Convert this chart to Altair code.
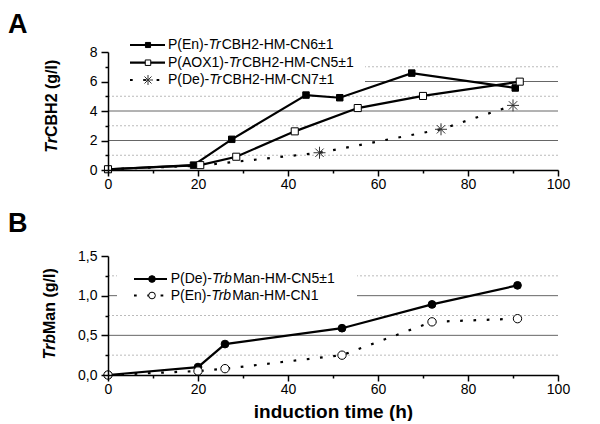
import altair as alt
import pandas as pd

FONT = "Liberation Sans"

# ---------------- data ----------------
# Panel A: TrCBH2 (g/l) vs induction time (h)
a_en_t = [0, 19, 27.5, 44, 51.5, 67.5, 90.5]
a_en_v = [0.05, 0.33, 2.08, 5.08, 4.9, 6.57, 5.56]
a_aox_t = [0, 20.5, 28.5, 41.5, 55.5, 70, 91.5]
a_aox_v = [0.05, 0.33, 0.9, 2.62, 4.2, 5.02, 5.99]
a_de_t = [0, 20.5, 47, 74, 90]
a_de_v = [0.05, 0.3, 1.17, 2.76, 4.38]
a_de_marked = [False, False, True, True, True]

# Panel B: TrbMan (g/l) vs induction time (h)
b_de_t = [0, 20, 26, 52, 72, 91]
b_de_v = [0, 0.1, 0.39, 0.59, 0.89, 1.13]
b_en_t = [0, 20, 26, 52, 72, 91]
b_en_v = [0, 0.05, 0.08, 0.25, 0.67, 0.71]

a_legend = [("P(En)-", "Tr", "CBH2-HM-CN6±1"),
            ("P(AOX1)-", "Tr", "CBH2-HM-CN5±1"),
            ("P(De)-", "Tr", "CBH2-HM-CN7±1")]
b_legend = [("P(De)-", "Trb", "Man-HM-CN5±1"),
            ("P(En)-", "Trb", "Man-HM-CN1")]

x_ticks = list(range(0, 101, 10))
a_y_ticks = list(range(0, 9))
b_y_ticks = [0, 0.25, 0.5, 0.75, 1.0, 1.25, 1.5]
a_grid_solid = [2, 4, 6]
a_grid_dot = [1, 3, 5, 7]
b_grid_solid = [0.5, 1.0]
b_grid_dot = [0.25, 0.75, 1.25]

# ---------------- helpers ----------------
W = 450
HA = 118
HB = 119
DOT = [2.7, 10.6]
LW = 2.2

ARIAL = {' ': 278, '(': 333, ')': 333, '-': 333, '1': 556, '2': 556, '5': 556,
         '6': 556, '7': 556, 'A': 667, 'B': 667, 'C': 722, 'D': 722, 'E': 667,
         'H': 722, 'M': 833, 'N': 722, 'O': 778, 'P': 667, 'T': 611, 'X': 667,
         'a': 556, 'b': 556, 'e': 556, 'n': 556, 'r': 333, '±': 549}


def tw(s, size):
    return sum(ARIAL.get(c, 556) for c in s) / 1000.0 * size


ASTERISK = "M-1,0L1,0M0,-1L0,1M-0.7,-0.7L0.7,0.7M-0.7,0.7L0.7,-0.7"

MARKERS = {
    "filled_square": dict(shape="square", filled=True, fill="black", stroke="black", strokeWidth=1, opacity=1),
    "open_square": dict(shape="square", filled=True, fill="white", stroke="black", strokeWidth=1, opacity=1),
    "asterisk": dict(shape=ASTERISK, filled=False, stroke="#333333", strokeWidth=1, opacity=1),
    "filled_circle": dict(shape="circle", filled=True, fill="black", stroke="black", strokeWidth=1, opacity=1),
    "open_circle": dict(shape="circle", filled=True, fill="white", stroke="black", strokeWidth=1, opacity=1),
}
SIZES = {"filled_square": 42, "open_square": 50, "asterisk": 144,
         "filled_circle": 60, "open_circle": 70}
LEG_SIZES = {"filled_square": 26, "open_square": 30, "asterisk": 100,
             "filled_circle": 45, "open_circle": 45}

one = pd.DataFrame({"k": [0]})

XSCALE = alt.Scale(domain=[0, 100], nice=False, zero=False)


def x_axis(title):
    kw = dict(values=x_ticks,
              labelExpr="datum.value % 20 === 0 ? datum.label : ''",
              tickSize={"condition": {"test": "datum.value % 20 !== 0", "value": 3}, "value": 6},
              labelPadding=1, labelFlush=False, labelOverlap=False, grid=False,
              zindex=1, domainColor="black", domainWidth=1.5, tickColor="black",
              tickWidth=1.5, labelFont=FONT, labelFontSize=14, labelColor="black")
    if title:
        kw.update(title=title, titleFont=FONT, titleFontSize=19, titleFontWeight="bold",
                  titleColor="black", titlePadding=6)
    else:
        kw.update(title=None)
    return alt.Axis(**kw)


def y_axis(values, label_expr, minor_test):
    return alt.Axis(values=values, labelExpr=label_expr,
                    tickSize={"condition": {"test": minor_test, "value": 3}, "value": 7},
                    labelPadding=4, labelOverlap=False, grid=False, title=None,
                    zindex=1, domainColor="black", domainWidth=1.5, tickColor="black",
                    tickWidth=1.5, labelFont=FONT, labelFontSize=14, labelColor="black")


def series(t, v, marker, dash, xenc, yenc, marked=None):
    df = pd.DataFrame({"t": t, "v": v, "m": marked if marked is not None else [True] * len(t)})
    lkw = dict(color="black", strokeWidth=LW)
    if dash:
        lkw["strokeDash"] = dash
    line = alt.Chart(df).mark_line(**lkw).encode(x=xenc, y=yenc)
    pts = alt.Chart(df).transform_filter("datum.m").mark_point(
        size=SIZES[marker], **MARKERS[marker]).encode(x=xenc, y=yenc)
    return [line, pts]


def legend_layers(rows, styles, dashes, x_line0, x_line1, x_mark, x_text, ys):
    layers = []
    for (pre, ital, suf), marker, dash, y in zip(rows, styles, dashes, ys):
        rkw = dict(color="black", strokeWidth=LW)
        if dash:
            rkw["strokeDash"] = dash
        layers.append(alt.Chart(one).mark_rule(**rkw).encode(
            x=alt.value(x_line0), x2=alt.value(x_line1), y=alt.value(y)))
        layers.append(alt.Chart(one).mark_point(size=LEG_SIZES[marker], **MARKERS[marker]).encode(
            x=alt.value(x_mark), y=alt.value(y)))
        x = x_text
        for seg, italic in ((pre, False), (ital, True), (suf, False)):
            tkw = dict(font=FONT, fontSize=14, align="left", baseline="middle", color="black")
            if italic:
                tkw["fontStyle"] = "italic"
            layers.append(alt.Chart(pd.DataFrame({"s": [seg]})).mark_text(**tkw).encode(
                text="s:N", x=alt.value(x), y=alt.value(y)))
            x += tw(seg, 14)
    return layers


def ytitle(ital, rest, x, y):
    a = alt.Chart(pd.DataFrame({"s": [ital]})).mark_text(
        font=FONT, fontSize=16, fontWeight="bold", fontStyle="italic", angle=270,
        align="right", baseline="middle", color="black").encode(
        text="s:N", x=alt.value(x), y=alt.value(y))
    b = alt.Chart(pd.DataFrame({"s": [rest]})).mark_text(
        font=FONT, fontSize=16, fontWeight="bold", angle=270,
        align="left", baseline="middle", color="black").encode(
        text="s:N", x=alt.value(x), y=alt.value(y))
    return [a, b]


def panel_label(s, y):
    return alt.Chart(pd.DataFrame({"s": [s]})).mark_text(
        font=FONT, fontSize=27, fontWeight="bold", align="left", baseline="top",
        color="black").encode(text="s:N", x=alt.value(-100), y=alt.value(y))


def grid(solid, dot, yenc):
    g1 = alt.Chart(pd.DataFrame({"v": dot})).mark_rule(
        color="#bbbbbb", strokeWidth=1, strokeDash=[2, 2]).encode(y=yenc)
    g2 = alt.Chart(pd.DataFrame({"v": solid})).mark_rule(
        color="#666666", strokeWidth=1).encode(y=yenc)
    return [g1, g2]


# ---------------- panel A ----------------
xa = alt.X("t:Q", scale=XSCALE, axis=x_axis(None))
ya = alt.Y("v:Q", scale=alt.Scale(domain=[0, 8], nice=False),
           axis=y_axis(a_y_ticks, "datum.value % 2 === 0 ? datum.label : ''",
                       "datum.value % 2 !== 0"))

a_layers = grid(a_grid_solid, a_grid_dot, ya)
a_layers.append(alt.Chart(one).mark_rect(color="white").encode(
    x=alt.value(0), x2=alt.value(257), y=alt.value(-22), y2=alt.value(36)))
a_layers += series(a_de_t, a_de_v, "asterisk", DOT, xa, ya, a_de_marked)
a_layers += series(a_en_t, a_en_v, "filled_square", None, xa, ya)
a_layers += series(a_aox_t, a_aox_v, "open_square", None, xa, ya)
a_layers += legend_layers(a_legend, ["filled_square", "open_square", "asterisk"],
                          [None, None, DOT], 22, 57, 40, 60, [-7, 10.7, 28])
a_layers += ytitle("Tr", "CBH2 (g/l)", -56, 85)
a_layers.append(panel_label("A", -40))

panel_a = alt.layer(*a_layers).properties(width=W, height=HA)

# ---------------- panel B ----------------
xb = alt.X("t:Q", scale=XSCALE, axis=x_axis("induction time (h)"))
yb = alt.Y("v:Q", scale=alt.Scale(domain=[0, 1.5], nice=False),
           axis=y_axis(b_y_ticks,
                       "(round(datum.value * 4) % 2 === 0) ? replace(format(datum.value, '.1f'), '.', ',') : ''",
                       "round(datum.value * 4) % 2 !== 0"))

b_layers = grid(b_grid_solid, b_grid_dot, yb)
b_layers.append(alt.Chart(one).mark_rect(color="white").encode(
    x=alt.value(9), x2=alt.value(249), y=alt.value(8), y2=alt.value(50)))
b_layers += series(b_de_t, b_de_v, "filled_circle", None, xb, yb)
b_layers += series(b_en_t, b_en_v, "open_circle", DOT, xb, yb)
b_layers += legend_layers(b_legend, ["filled_circle", "open_circle"],
                          [None, DOT], 26, 59, 44, 62.7, [23, 39.5])
b_layers += ytitle("Trb", "Man (g/l)", -58, 78)
b_layers.append(panel_label("B", -45.3))

panel_b = alt.layer(*b_layers).properties(width=W, height=HB)

chart = alt.vconcat(panel_a, panel_b, spacing=18).properties(
    padding={"left": 0, "top": 3, "right": 5, "bottom": 0}
).configure_view(stroke=None)

chart.save("out.html", embed_options={"renderer": "svg", "actions": False})
